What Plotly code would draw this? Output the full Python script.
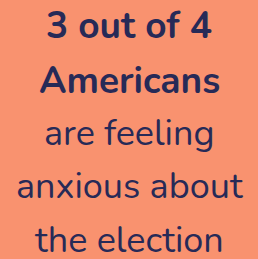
import plotly.graph_objects as go

lines = ["3 out of 4", "Americans", "are feeling", "anxious about", "the election"]
bold = [True, True, False, False, False]
baselines_px = [38, 93, 145, 198, 252]

W, H = 258, 259
BG = "#F9926F"
FG = "#272A57"

fig = go.Figure()
annotations = []
for txt, b, base in zip(lines, bold, baselines_px):
    annotations.append(dict(
        text=f"<b>{txt}</b>" if b else txt,
        x=0.5, xref="paper", xanchor="center",
        y=1 - (base + 15) / H, yref="paper", yanchor="bottom",
        showarrow=False,
        font=dict(family="Nunito, Lato, sans-serif", size=37 if b else 36, color=FG),
    ))

fig.update_layout(
    width=W, height=H,
    margin=dict(l=0, r=0, t=0, b=0),
    paper_bgcolor=BG, plot_bgcolor=BG,
    xaxis=dict(visible=False), yaxis=dict(visible=False),
    annotations=annotations,
    showlegend=False,
)
fig.write_html(
    "out.html",
    config={"displayModeBar": False},
    post_script="document.body.style.margin='0';document.body.style.overflow='hidden';document.body.style.background='" + BG + "';",
)
